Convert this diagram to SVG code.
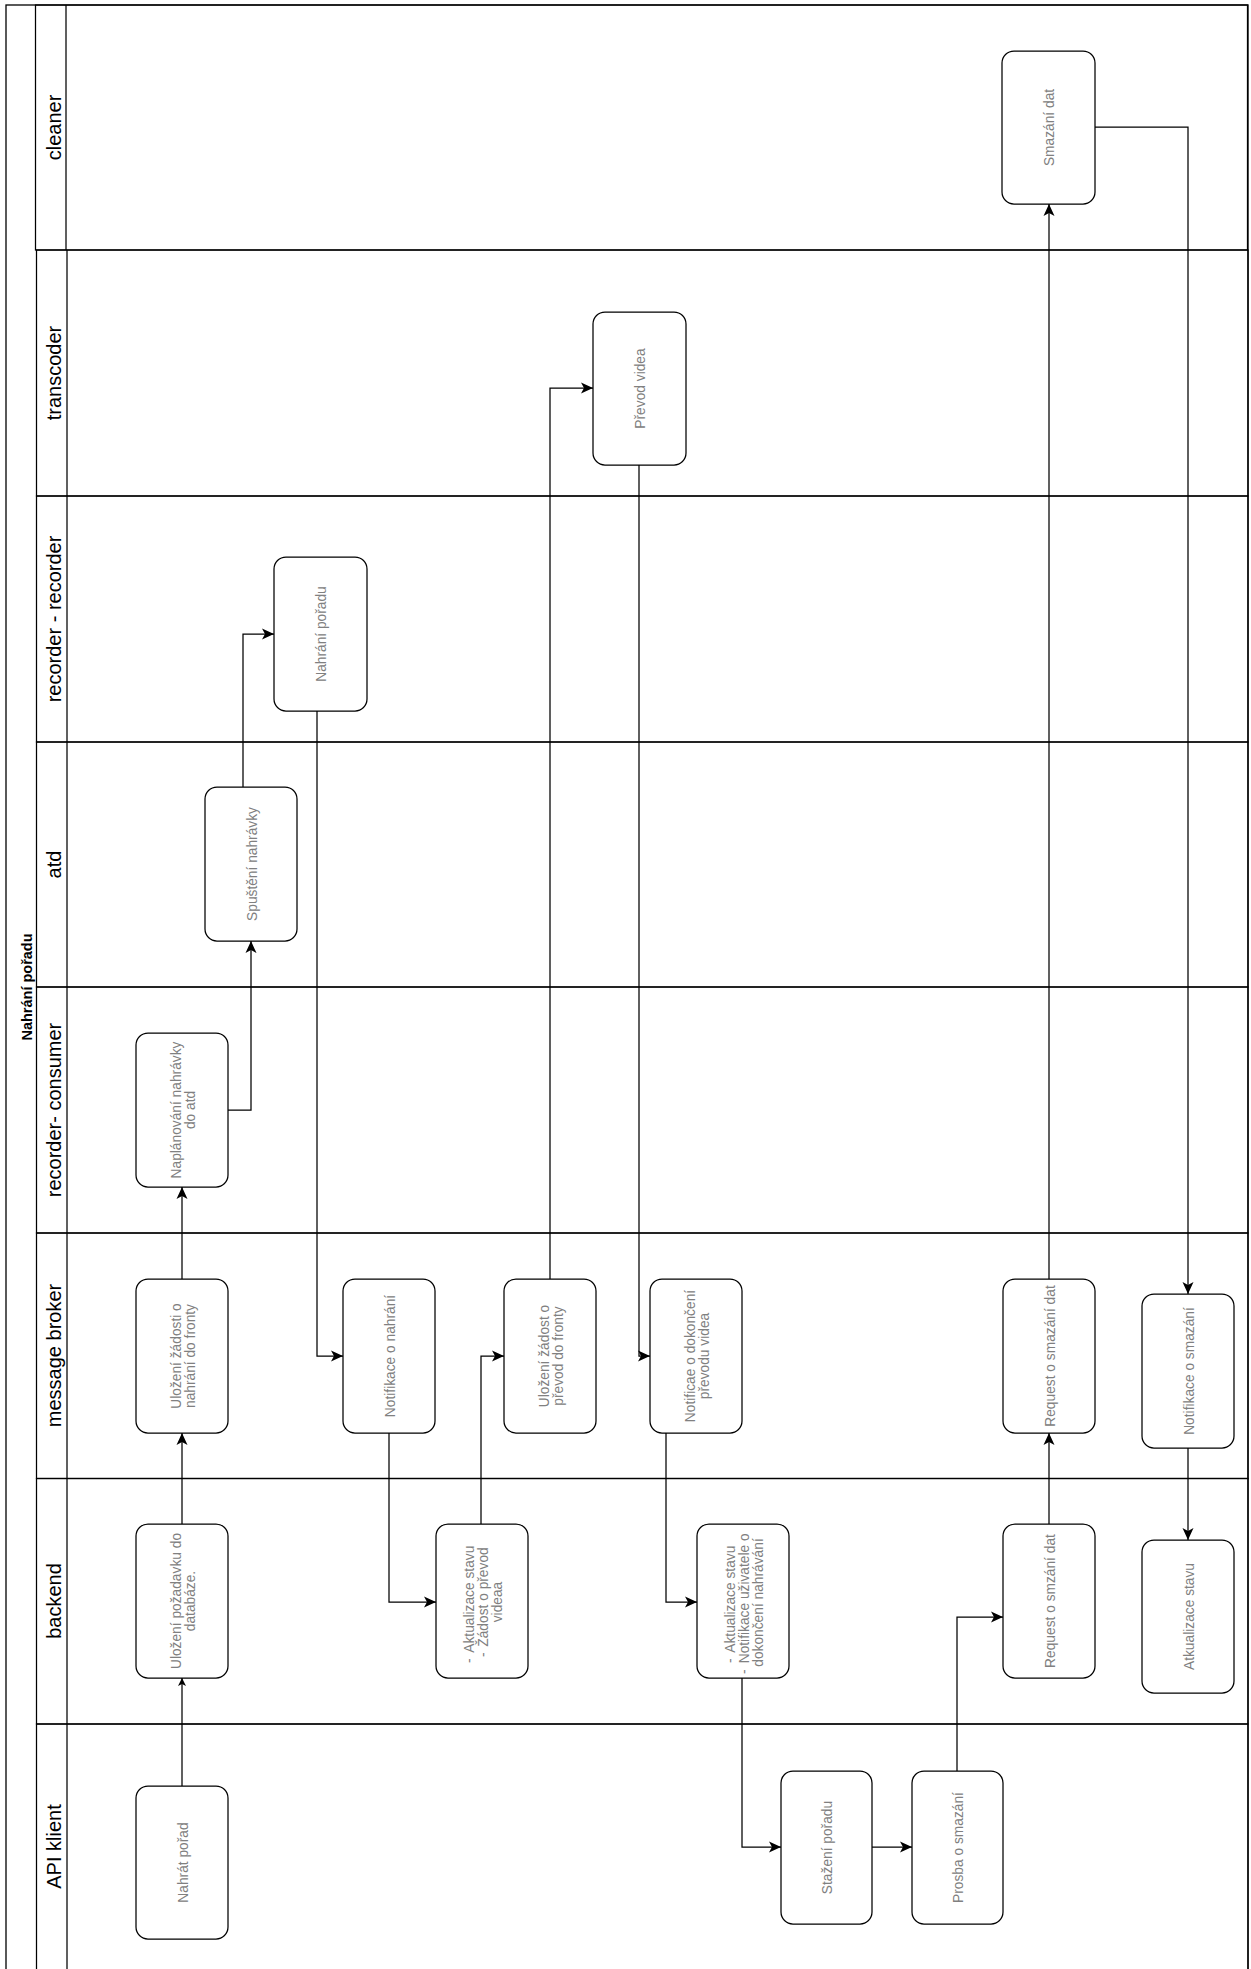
<svg xmlns="http://www.w3.org/2000/svg" width="1251" height="1969" viewBox="0 0 1251 1969">
<style>
.bg { fill:#ffffff; }
.pool { fill:none; stroke:#000; stroke-width:1.3; }
.lane { fill:none; stroke:#000; stroke-width:1.25; }
.hdr { font-family:"Liberation Sans", Arial, Helvetica, sans-serif; font-size:20px; fill:#000; text-anchor:middle; }
.title { font-family:"Liberation Sans", Arial, Helvetica, sans-serif; font-size:14.5px; font-weight:bold; fill:#000; text-anchor:middle; }
.node rect { fill:#fff; stroke:#000; stroke-width:1.25; }
.node text { font-family:"Liberation Sans", Arial, Helvetica, sans-serif; font-size:13.75px; fill:#808080; text-anchor:middle; }
.node text.lst { text-anchor:start; }
.edge { fill:none; stroke:#000; stroke-width:1.25; marker-end:url(#arr); }
.edge.sm { marker-end:url(#arrSm); }
</style>
<defs>
<marker id="arr" markerUnits="userSpaceOnUse" markerWidth="14" markerHeight="14" refX="12" refY="6" orient="auto">
<path d="M0,0.5 L12,6 L0,11.5 L3,6 Z" fill="#000"/>
</marker>
<marker id="arrSm" markerUnits="userSpaceOnUse" markerWidth="10" markerHeight="10" refX="8" refY="4" orient="auto">
<path d="M0,0 L8,4 L0,8 L2,4 Z" fill="#000"/>
</marker>
</defs>
<rect class="bg" x="0" y="0" width="1251" height="1969"/>

<g id="pool">
<rect class="pool" x="6" y="5" width="1242" height="1970"/>
<text class="title" transform="translate(31.5,987) rotate(-90)">Nahrání pořadu</text>
</g>

<g id="lanes">
<g id="lane-cleaner"><rect class="lane" x="35.5" y="5" width="1212" height="245"/><line class="lane" x1="66" y1="5" x2="66" y2="250"/><text class="hdr" transform="translate(61,127.5) rotate(-90)">cleaner</text></g>
<g id="lane-transcoder"><rect class="lane" x="36.5" y="250" width="1211.5" height="246"/><line class="lane" x1="67" y1="250" x2="67" y2="496"/><text class="hdr" transform="translate(61,373) rotate(-90)">transcoder</text></g>
<g id="lane-recorder-recorder"><rect class="lane" x="36.5" y="496" width="1211.5" height="246"/><line class="lane" x1="67" y1="496" x2="67" y2="742"/><text class="hdr" transform="translate(61,619) rotate(-90)">recorder - recorder</text></g>
<g id="lane-atd"><rect class="lane" x="36.5" y="742" width="1211.5" height="245"/><line class="lane" x1="67" y1="742" x2="67" y2="987"/><text class="hdr" transform="translate(61,864.5) rotate(-90)">atd</text></g>
<g id="lane-recorder-consumer"><rect class="lane" x="36.5" y="987" width="1211.5" height="246"/><line class="lane" x1="67" y1="987" x2="67" y2="1233"/><text class="hdr" transform="translate(61,1110) rotate(-90)">recorder- consumer</text></g>
<g id="lane-message-broker"><rect class="lane" x="36.5" y="1233" width="1211.5" height="245.5"/><line class="lane" x1="67" y1="1233" x2="67" y2="1478.5"/><text class="hdr" transform="translate(61,1355.5) rotate(-90)">message broker</text></g>
<g id="lane-backend"><rect class="lane" x="36.5" y="1478.5" width="1211.5" height="245.5"/><line class="lane" x1="67" y1="1478.5" x2="67" y2="1724"/><text class="hdr" transform="translate(61,1601) rotate(-90)">backend</text></g>
<g id="lane-api-klient"><rect class="lane" x="36.5" y="1724" width="1211.5" height="250"/><line class="lane" x1="67" y1="1724" x2="67" y2="1974"/><text class="hdr" transform="translate(61,1846.5) rotate(-90)">API klient</text></g>
</g>

<g id="connectors">
<path class="edge sm" d="M182,1786 V1678"/>
<path class="edge" d="M182,1524 V1433"/>
<path class="edge" d="M182,1279 V1187"/>
<path class="edge" d="M228,1110 H251 V941"/>
<path class="edge" d="M243,787 V634 H274"/>
<path class="edge" d="M317,711 V1356 H343"/>
<path class="edge" d="M389,1433 V1602 H436"/>
<path class="edge" d="M481,1524 V1356 H504"/>
<path class="edge" d="M550,1279 V388 H593"/>
<path class="edge" d="M639,465 V1356 H650"/>
<path class="edge" d="M666,1433 V1602 H697"/>
<path class="edge" d="M742,1678 V1847 H781"/>
<path class="edge" d="M872,1847 H912"/>
<path class="edge" d="M957,1771 V1617 H1003"/>
<path class="edge" d="M1049,1524 V1433"/>
<path class="edge" d="M1049,1279 V204"/>
<path class="edge" d="M1095,127 H1188 V1294"/>
<path class="edge" d="M1188,1448 V1540"/>
</g>

<g id="n-smazani-dat" class="node"><rect x="1002" y="51" width="93" height="153" rx="12"/><text transform="translate(1048.5,127.5) rotate(-90)" y="5.5">Smazání dat</text></g>
<g id="n-prevod-videa" class="node"><rect x="593" y="312" width="93" height="153" rx="12"/><text transform="translate(639.5,388.5) rotate(-90)" y="5.5">Převod videa</text></g>
<g id="n-nahrani-poradu" class="node"><rect x="274" y="557" width="93" height="154" rx="12"/><text transform="translate(320.5,634) rotate(-90)" y="5.5">Nahrání pořadu</text></g>
<g id="n-spusteni-nahravky" class="node"><rect x="205" y="787" width="92" height="154" rx="12"/><text transform="translate(251,864) rotate(-90)" y="5.5">Spuštění nahrávky</text></g>
<g id="n-naplanovani" class="node"><rect x="136" y="1033" width="92" height="154" rx="12"/><text transform="translate(182,1110) rotate(-90)"><tspan x="0" y="-1.5">Naplánování nahrávky</tspan><tspan x="0" y="12.5">do atd</tspan></text></g>
<g id="n-ulozeni-zadosti" class="node"><rect x="136" y="1279" width="92" height="154" rx="12"/><text transform="translate(182,1356) rotate(-90)"><tspan x="0" y="-1.5">Uložení žádosti o</tspan><tspan x="0" y="12.5">nahrání do fronty</tspan></text></g>
<g id="n-notifikace-nahrani" class="node"><rect x="343" y="1279" width="92" height="154" rx="12"/><text transform="translate(389,1356) rotate(-90)" y="5.5">Notifikace o nahrání</text></g>
<g id="n-ulozeni-prevod" class="node"><rect x="504" y="1279" width="92" height="154" rx="12"/><text transform="translate(550,1356) rotate(-90)"><tspan x="0" y="-1.5">Uložení žádost o</tspan><tspan x="0" y="12.5">převod do fronty</tspan></text></g>
<g id="n-notificae-dokonceni" class="node"><rect x="650" y="1279" width="92" height="154" rx="12"/><text transform="translate(696,1356) rotate(-90)"><tspan x="0" y="-1.5">Notificae o dokončení</tspan><tspan x="0" y="12.5">převodu videa</tspan></text></g>
<g id="n-request-mb" class="node"><rect x="1003" y="1279" width="92" height="154" rx="12"/><text transform="translate(1049,1356) rotate(-90)" y="5.5">Request o smazání dat</text></g>
<g id="n-notifikace-smazani" class="node"><rect x="1142" y="1294" width="92" height="154" rx="12"/><text transform="translate(1188,1371) rotate(-90)" y="5.5">Notifikace o smazání</text></g>
<g id="n-ulozeni-pozadavku" class="node"><rect x="136" y="1524" width="92" height="154" rx="12"/><text transform="translate(182,1601) rotate(-90)"><tspan x="0" y="-1.5">Uložení požadavku do</tspan><tspan x="0" y="12.5">databáze.</tspan></text></g>
<g id="n-aktualizace-1" class="node"><rect x="436" y="1524" width="92" height="154" rx="12"/>
<text class="lst" transform="translate(482,1601) rotate(-90)"><tspan x="-62" y="-8.5">-</tspan><tspan x="-51.7" y="-8.5">Aktualizace stavu</tspan><tspan x="-56" y="5.5">-</tspan><tspan x="-45.7" y="5.5">Žádost o převod</tspan></text>
<text transform="translate(482,1601) rotate(-90)" x="-1" y="19.5">videaa</text></g>
<g id="n-aktualizace-2" class="node"><rect x="697" y="1524" width="92" height="154" rx="12"/>
<text class="lst" transform="translate(743,1601) rotate(-90)"><tspan x="-62" y="-8.5">-</tspan><tspan x="-51.7" y="-8.5">Aktualizace stavu</tspan><tspan x="-73" y="5.5">-</tspan><tspan x="-62.3" y="5.5">Notifikace uživatele o</tspan></text>
<text transform="translate(743,1601) rotate(-90)" x="-1.5" y="19.5">dokončení nahrávání</text></g>
<g id="n-request-be" class="node"><rect x="1003" y="1524" width="92" height="154" rx="12"/><text transform="translate(1049,1601) rotate(-90)" y="5.5">Request o smzání dat</text></g>
<g id="n-atkualizace" class="node"><rect x="1142" y="1540" width="92" height="153" rx="12"/><text transform="translate(1188,1616.5) rotate(-90)" y="5.5">Atkualizace stavu</text></g>
<g id="n-nahrat-porad" class="node"><rect x="136" y="1786" width="92" height="153" rx="12"/><text transform="translate(182,1862.5) rotate(-90)" y="5.5">Nahrát pořad</text></g>
<g id="n-stazeni-poradu" class="node"><rect x="781" y="1771" width="91" height="153" rx="12"/><text transform="translate(826.5,1847.5) rotate(-90)" y="5.5">Stažení pořadu</text></g>
<g id="n-prosba" class="node"><rect x="912" y="1771" width="91" height="153" rx="12"/><text transform="translate(957.5,1847.5) rotate(-90)" y="5.5">Prosba o smazání</text></g>
</svg>
